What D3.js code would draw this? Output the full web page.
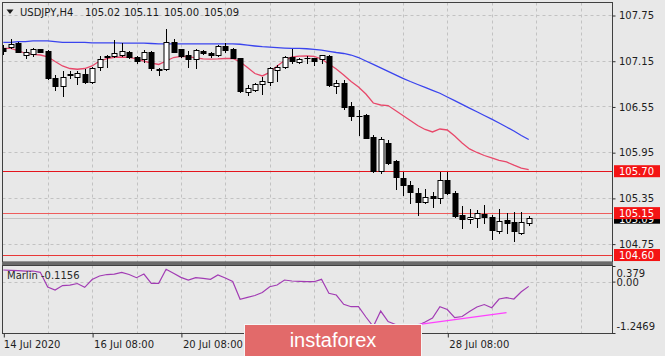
<!DOCTYPE html>
<html><head><meta charset="utf-8">
<script src="https://cdn.jsdelivr.net/npm/d3@7"></script>
<style>html,body{margin:0;padding:0;background:#e8e8e8;overflow:hidden}svg{display:block}</style>
</head><body>
<svg id="c" width="665" height="356"></svg>
<script>
// ---------------- DATA ----------------
const symbolTitle = "USDJPY,H4";
const titleValues = ["105.02", "105.11", "105.00", "105.09"];

const opens = [
107.32,107.33,107.38,107.23,107.24,107.30,107.28,106.92,106.82,106.96,
106.93,106.98,106.87,107.07,107.20,107.21,107.23,107.26,107.20,107.17,
107.27,107.04,107.04,107.40,107.30,107.23,107.17,107.28,107.25,107.23,
107.34,107.31,107.18,106.74,106.77,106.85,106.87,107.03,107.07,107.20,
107.13,107.18,107.18,107.17,107.21,106.82,106.86,106.56,106.43,106.44,
106.15,105.70,106.07,105.83,105.61,105.52,105.42,105.29,105.37,105.35,
105.59,105.42,105.12,105.07,105.08,105.14,105.10,104.91,105.06,105.03,
104.89,105.02];
const highs = [
107.35,107.44,107.39,107.30,107.32,107.31,107.29,106.96,107.01,107.01,
107.01,107.04,107.07,107.21,107.23,107.42,107.38,107.28,107.21,107.29,
107.28,107.05,107.56,107.43,107.31,107.28,107.30,107.29,107.27,107.36,
107.38,107.32,107.19,106.83,106.86,106.94,107.07,107.09,107.21,107.31,
107.19,107.21,107.19,107.23,107.22,106.90,106.90,106.61,106.50,106.45,
106.18,106.15,106.11,105.85,105.69,105.57,105.48,105.46,105.43,105.69,
105.69,105.44,105.25,105.20,105.19,105.26,105.13,105.20,105.15,105.17,
105.17,105.11];
const lows = [
107.24,107.32,107.26,107.18,107.21,107.26,106.91,106.76,106.69,106.92,
106.85,106.86,106.86,107.03,107.07,107.20,107.21,107.19,107.12,107.13,
107.03,106.96,107.03,107.26,107.20,107.07,107.05,107.24,107.20,107.21,
107.27,107.19,106.74,106.70,106.75,106.71,106.83,106.89,107.06,107.12,
107.12,107.12,107.09,107.12,106.82,106.73,106.52,106.37,106.18,106.13,
105.69,105.68,105.80,105.46,105.39,105.28,105.13,105.28,105.23,105.28,
105.40,105.10,104.96,105.02,104.97,105.02,104.81,104.89,104.89,104.78,
104.88,105.00];
const closes = [
107.28,107.37,107.27,107.26,107.31,107.27,106.92,106.82,106.94,106.97,
106.99,106.87,107.05,107.17,107.21,107.25,107.28,107.20,107.15,107.26,
107.05,107.03,107.40,107.27,107.21,107.17,107.29,107.25,107.22,107.34,
107.29,107.19,106.75,106.79,106.84,106.88,107.05,107.07,107.20,107.15,
107.17,107.19,107.15,107.22,106.83,106.86,106.54,106.42,106.42,106.14,
105.70,106.12,105.81,105.62,105.52,105.43,105.30,105.36,105.35,105.58,
105.41,105.11,105.07,105.10,105.15,105.10,104.93,105.05,105.02,104.91,
105.04,105.09];

const maRed = [
107.313,107.311,107.284,107.245,107.234,107.225,107.202,107.140,107.081,107.048,
107.038,107.048,107.081,107.146,107.179,107.195,107.199,107.195,107.173,107.146,
107.120,107.101,107.146,107.192,107.206,107.203,107.188,107.173,107.170,107.173,
107.179,107.179,107.137,107.061,106.982,106.950,106.996,107.081,107.153,107.199,
107.210,107.212,107.206,107.173,107.107,107.042,106.963,106.877,106.805,106.713,
106.595,106.569,106.562,106.497,106.431,106.366,106.300,106.248,106.215,106.254,
106.241,106.162,106.070,105.992,105.946,105.906,105.874,105.843,105.821,105.779,
105.742,105.720];
const maBlue = [
107.39,107.39,107.40,107.40,107.41,107.41,107.41,107.40,107.39,107.39,
107.39,107.39,107.385,107.385,107.383,107.383,107.382,107.38,107.38,107.38,
107.376,107.37,107.37,107.37,107.37,107.37,107.37,107.37,107.37,107.37,
107.37,107.37,107.366,107.354,107.343,107.334,107.328,107.321,107.316,107.313,
107.311,107.307,107.300,107.288,107.274,107.258,107.245,107.225,107.192,107.146,
107.101,107.057,107.011,106.965,106.919,106.877,106.838,106.799,106.762,106.723,
106.674,106.626,106.577,106.528,106.480,106.431,106.383,106.333,106.280,106.228,
106.169,106.116];

const marlin = [
0.282,0.274,0.269,0.257,0.257,0.226,-0.131,-0.204,-0.095,-0.083,
-0.046,-0.138,0.051,0.136,0.172,0.184,0.226,0.172,0.095,0.184,
-0.041,-0.041,0.299,0.201,0.104,0.039,0.095,0.080,0.056,0.160,
0.087,0.002,-0.430,-0.381,-0.337,-0.265,-0.124,-0.083,0.039,0.015,
0.007,0.002,-0.002,0.056,-0.284,-0.325,-0.551,-0.609,-0.609,-0.859,
-1.090,-0.714,-0.968,-1.041,-1.126,-1.175,-1.066,-0.981,-0.883,-0.609,
-0.677,-0.876,-0.847,-0.726,-0.617,-0.556,-0.633,-0.422,-0.391,-0.422,
-0.245,-0.1156];
const marlinLabel = "Marlin -0.1156";
const divergenceBars = [54, 68];
const divergenceValues = [-1.09, -0.75];

const priceTicks = [107.75, 107.15, 106.55, 105.95, 105.35, 104.75];
const levelLines = [105.70, 105.15, 104.60];
const bidPrice = 105.09;
const marlinTicks = [0.379, 0.00, -1.2469];
const marlinTickLabels = ["0.379", "0.00", "-1.2469"];
const timeTickBars = [0, 12, 24, 60];
const timeTickLabels = ["14 Jul 2020", "16 Jul 08:00", "20 Jul 08:00", "28 Jul 08:00"];
const watermarkText = "instaforex";

// ---------------- LAYOUT ----------------
const FONT = "DejaVu Sans";
const mainTop = 2.5, mainBottom = 262, left = 2.5, right = 612.5;
const indTop = 265.5, indBottom = 333.5;

const svg = d3.select("#c");
svg.append("rect").attr("width", 665).attr("height", 356).attr("fill", "#e8e8e8");

const x = d3.scaleLinear().domain([0, 60]).range([3.3, 447.3]);
const y = d3.scaleLinear().domain([104.75, 107.75]).range([243.6, 15]);
const yi = d3.scaleLinear().domain([-1.2469, 0.379]).range([333, 266]);
const px = i => Math.round(x(i)) + 0.5;
const py = v => Math.round(y(v)) + 0.5;

const defs = svg.append("defs");
defs.append("clipPath").attr("id", "clipMain").append("rect")
  .attr("x", left).attr("y", mainTop).attr("width", right - left).attr("height", mainBottom - mainTop);
defs.append("clipPath").attr("id", "clipInd").append("rect")
  .attr("x", left).attr("y", indTop).attr("width", right - left).attr("height", indBottom - indTop);

const gridBars = d3.range(6, 84, 6).filter(b => x(b) < right);
const gridColor = "#c2c2c2";

// ---- Main panel grid ----
const gMain = svg.append("g").attr("clip-path", "url(#clipMain)");
gMain.selectAll("line.vg").data(gridBars).join("line")
  .attr("x1", d => px(d)).attr("x2", d => px(d)).attr("y1", mainTop).attr("y2", mainBottom)
  .attr("stroke", gridColor).attr("stroke-dasharray", "3,3");
gMain.selectAll("line.hg").data(priceTicks).join("line")
  .attr("x1", left).attr("x2", right).attr("y1", d => py(d)).attr("y2", d => py(d))
  .attr("stroke", gridColor).attr("stroke-dasharray", "3,3");

// ---- Level lines ----
const levelColors = ["#e4141c", "#ee5c5c", "#e83838"];
gMain.selectAll("line.lvl").data(levelLines).join("line")
  .attr("x1", left).attr("x2", right).attr("y1", d => py(d)).attr("y2", d => py(d))
  .attr("stroke", (d, i) => levelColors[i]).attr("stroke-width", 1);
gMain.append("line").attr("x1", left).attr("x2", right)
  .attr("y1", py(bidPrice)).attr("y2", py(bidPrice)).attr("stroke", "#c4c4c4");

// ---- Moving averages ----
const lineMain = d3.line().x((d, i) => x(i)).y(d => y(d));
gMain.append("path").attr("d", lineMain(maBlue)).attr("fill", "none")
  .attr("stroke", "#3a44ee").attr("stroke-width", 1.3);
gMain.append("path").attr("d", lineMain(maRed)).attr("fill", "none")
  .attr("stroke", "#e8486a").attr("stroke-width", 1.3);

// ---- Candles ----
const idx = d3.range(opens.length);
const gC = gMain.append("g");
gC.selectAll("line.wick").data(idx).join("line")
  .attr("x1", i => px(i)).attr("x2", i => px(i))
  .attr("y1", i => Math.round(y(highs[i]))).attr("y2", i => Math.round(y(lows[i])) + 1)
  .attr("stroke", "#000").attr("stroke-width", 1);
gC.selectAll("rect.body").data(idx).join("rect")
  .attr("x", i => px(i) - 2.5).attr("width", 5)
  .attr("y", i => py(Math.max(opens[i], closes[i])))
  .attr("height", i => Math.max(0.01, py(Math.min(opens[i], closes[i])) - py(Math.max(opens[i], closes[i]))))
  .attr("fill", i => closes[i] >= opens[i] ? "#ffffff" : "#000000")
  .attr("stroke", "#000").attr("stroke-width", 1);

// ---- Frames ----
svg.append("rect").attr("x", left).attr("y", mainTop).attr("width", right - left).attr("height", mainBottom - mainTop)
  .attr("fill", "none").attr("stroke", "#404040");
svg.append("rect").attr("x", 2).attr("y", 262).attr("width", right - 1.5).attr("height", 3).attr("fill", "#6a6a6a");

// ---- Price axis ----
const yAxis = d3.axisRight(y).tickValues(priceTicks).tickSize(3).tickPadding(4).tickFormat(d3.format(".2f"));
const gY = svg.append("g").attr("transform", `translate(${right},0.5)`).call(yAxis);
gY.select(".domain").remove();
gY.selectAll("line").attr("stroke", "#303030");
gY.selectAll("text").attr("font-family", FONT).attr("font-size", 10).attr("fill", "#1e1e1e").attr("x", 6.5);

// ---- Level labels (current bid label sits behind the 105.15 label, as in the reference) ----
const bidY = y(bidPrice);
svg.append("rect").attr("x", 614).attr("y", bidY - 6).attr("width", 46).attr("height", 12).attr("fill", "#000");
svg.append("text").attr("x", 619).attr("y", bidY + 2).attr("dy", "0.35em").text(d3.format(".2f")(bidPrice))
  .attr("font-family", FONT).attr("font-size", 10).attr("fill", "#fff");
const gL = svg.append("g");
levelLines.forEach(v => {
  const yy = y(v);
  gL.append("rect").attr("x", 614).attr("y", yy - 6).attr("width", 46).attr("height", 12).attr("fill", "#f41414");
  gL.append("text").attr("x", 619).attr("y", yy).attr("dy", "0.35em").text(d3.format(".2f")(v))
    .attr("font-family", FONT).attr("font-size", 10).attr("fill", "#fff");
});

// ---- Indicator panel ----
const gInd = svg.append("g").attr("clip-path", "url(#clipInd)");
gInd.selectAll("line.vg").data(gridBars).join("line")
  .attr("x1", d => px(d)).attr("x2", d => px(d)).attr("y1", indTop).attr("y2", indBottom)
  .attr("stroke", gridColor).attr("stroke-dasharray", "3,3");
gInd.append("line").attr("x1", left).attr("x2", right)
  .attr("y1", Math.round(yi(0)) + 0.5).attr("y2", Math.round(yi(0)) + 0.5)
  .attr("stroke", gridColor).attr("stroke-dasharray", "3,3");
const lineInd = d3.line().x((d, i) => x(i)).y(d => yi(d));
gInd.append("path").attr("d", lineInd(marlin)).attr("fill", "none")
  .attr("stroke", "#a23cb4").attr("stroke-width", 1.2);
gInd.append("path")
  .attr("d", d3.line().x(d => x(d[0])).y(d => yi(d[1]))(divergenceBars.map((b, k) => [b, divergenceValues[k]])))
  .attr("stroke", "#ff40ff").attr("stroke-width", 1.3).attr("fill", "none");
svg.append("text").attr("x", 7).attr("y", 275).attr("dy", "0.35em").text(marlinLabel)
  .attr("font-family", FONT).attr("font-size", 10).attr("fill", "#2a2a2a");
svg.append("rect").attr("x", left).attr("y", indTop).attr("width", right - left).attr("height", indBottom - indTop)
  .attr("fill", "none").attr("stroke", "#404040");

// indicator axis
const yiAxis = d3.axisRight(yi).tickValues(marlinTicks).tickSize(3)
  .tickFormat((d, i) => marlinTickLabels[i]);
const gYi = svg.append("g").attr("transform", `translate(${right},0)`).call(yiAxis);
gYi.select(".domain").remove();
gYi.selectAll("line").attr("stroke", "#303030");
gYi.selectAll("text").attr("font-family", FONT).attr("font-size", 10).attr("fill", "#1e1e1e").attr("x", 4)
  .attr("y", (d, i) => i === 0 ? 7 : (i === 2 ? -7 : 0.5));

// ---- Time axis ----
const xAxis = d3.axisBottom(x).tickValues(timeTickBars).tickSize(4)
  .tickFormat((d, i) => timeTickLabels[i]);
const gX = svg.append("g").attr("transform", `translate(0.5,${indBottom})`).call(xAxis);
gX.select(".domain").remove();
gX.selectAll("line").attr("stroke", "#303030");
gX.selectAll("text").attr("font-family", FONT).attr("font-size", 10).attr("fill", "#1e1e1e")
  .attr("text-anchor", "start").attr("x", (d, i) => i === 0 ? -0.5 : 1).attr("y", 7).attr("dy", "0.71em");

// ---- Title ----
svg.append("path").attr("d", "M6.5,9.5 L13.5,9.5 L10,14 Z").attr("fill", "#1a1a1a");
const titleXs = [20, 85, 124, 164, 204];
[symbolTitle].concat(titleValues).forEach((t, i) => {
  svg.append("text").attr("x", titleXs[i]).attr("y", 12.5).attr("dy", "0.35em").text(t)
    .attr("font-family", FONT).attr("font-size", 10).attr("fill", "#1a1a1a");
});

// ---- Watermark ----
svg.append("rect").attr("x", 244.5).attr("y", 324.5).attr("width", 177).attr("height", 34)
  .attr("fill", "#e26a6a").attr("stroke", "#f6f6f6").attr("stroke-width", 1);
svg.append("text").attr("x", 333).attr("y", 346.5).attr("text-anchor", "middle").text(watermarkText)
  .attr("font-family", "Liberation Sans").attr("font-size", 20).attr("fill", "#ffffff");
</script>
</body></html>
